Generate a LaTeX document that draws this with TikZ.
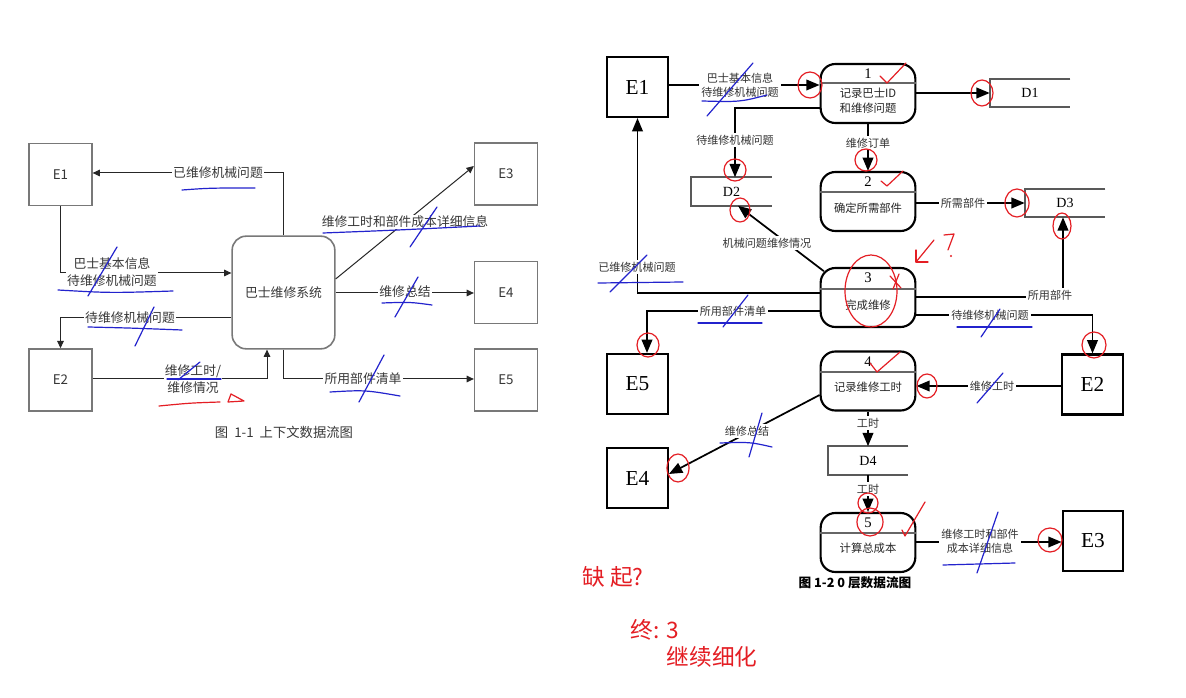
\documentclass[tikz,border=0pt]{standalone}
\usepackage{fontspec}
\setmainfont{Liberation Serif}
\newfontfamily\cjk{Noto Sans CJK SC}
\usetikzlibrary{arrows.meta}
\definecolor{pblue}{RGB}{35,35,205}
\definecolor{pred}{RGB}{228,30,36}
\definecolor{lgray}{RGB}{120,120,120}
\definecolor{ltext}{RGB}{55,55,55}
\begin{document}
\begin{tikzpicture}[x=0.75pt,y=-0.75pt,
  lbox/.style={draw=lgray,line width=1.2pt,inner sep=0,minimum width=47pt,minimum height=46.5pt,font=\cjk\fontsize{10}{12}\selectfont,text=ltext},
  lsys/.style={draw=lgray,line width=1.2pt,rounded corners=10.5pt,inner sep=0,minimum width=77pt,minimum height=84.5pt,font=\cjk\fontsize{9.6}{11}\selectfont,text=ltext},
  larr/.style={draw=black!85,line width=0.75pt,-{Triangle[length=5.5pt,width=5pt]}},
  llab/.style={fill=white,inner sep=1pt,font=\cjk\fontsize{9.6}{12.5}\selectfont,text=ltext,align=center},
  ebox/.style={draw,line width=1.6pt,inner sep=0,minimum width=45.5pt,minimum height=45pt,font=\fontsize{16}{18}\selectfont},
  proc/.style={draw,line width=1.6pt,rounded corners=11pt,inner sep=0,minimum width=71pt,minimum height=44.25pt},
  divl/.style={draw=black!60,line width=1pt},
  store/.style={draw=black!65,line width=1.3pt},
  snode/.style={inner sep=0,minimum width=60pt,minimum height=21pt,font=\fontsize{10.5}{12}\selectfont},
  rarr/.style={draw,line width=1.3pt,-{Triangle[length=10pt,width=8pt]}},
  rlab/.style={fill=white,inner sep=1.5pt,font=\cjk\fontsize{8.3}{10.5}\selectfont,text=black!80,align=center},
  pnum/.style={inner sep=0,font=\fontsize{11}{12}\selectfont},
  ptxt/.style={inner sep=0,font=\cjk\fontsize{8.5}{11}\selectfont,align=center,text=black!85},
  bpen/.style={draw=pblue,line width=0.9pt,line cap=round},
  rpen/.style={draw=pred,line width=0.9pt,line cap=round,line join=round},
  hand/.style={text=pred,inner sep=0,font=\cjk\fontsize{17}{19}\selectfont},
]
\path[use as bounding box,fill=white] (0,0) rectangle (1186,698);

% ================= left: context diagram =================
\node[lbox] (LE1) at (60.5,174.5) {E1};
\node[lbox] (LE2) at (60.5,380) {E2};
\node[lbox] (LE3) at (506,174) {E3};
\node[lbox] (LE4) at (506,292.5) {E4};
\node[lbox] (LE5) at (506,380) {E5};
\node[lsys] (LC) at (283.5,292.5) {巴士维修系统};

\draw[larr] (LC.north) -- (LC.north |- 0,173) -- (LE1.east |- 0,173);
\draw[larr] (LE1.south) |- (LC.west |- 0,273);
\draw[larr] (LC.west |- 0,318) -| (LE2.north);
\draw[larr] (LE2.east |- 0,379) -| (LC.south -| 267,0);
\draw[larr] (LC.east |- 0,279) -- (LE3.west |- 0,166);
\draw[larr] (LC.east |- 0,293) -- (LE4.west |- 0,293);
\draw[larr] (LC.south) |- (LE5.west |- 0,379);

\node[llab] (l1) at (218,173) {已维修机械问题};
\node[llab] (l2) at (112,272) {巴士基本信息\\待维修机械问题};
\node[llab] (l3) at (130,318) {待维修机械问题};
\node[llab] (l4) at (193,379) {维修工时/\\维修情况};
\node[llab] (l5) at (405,222) {维修工时和部件成本详细信息};
\node[llab] (l6) at (405,292) {维修总结};
\node[llab] (l7) at (363,379) {所用部件清单};
\node[font=\cjk\fontsize{10}{12}\selectfont,text=ltext] (cap1) at (284,432) {图\ \ 1-1\ \ 上下文数据流图};

% ================= right: level-0 diagram =================
\node[ebox] (E1) at (637.5,87) {E1};
\node[ebox] (E5) at (637.5,384) {E5};
\node[ebox] (E4) at (637.5,478) {E4};
\node[ebox] (E2) at (1092.5,384.5) {E2};
\node[ebox] (E3) at (1093,541) {E3};

\node[proc] (P1) at (868,93.5) {};
\node[proc] (P2) at (868,201.5) {};
\node[proc] (P3) at (868,297.5) {};
\node[proc] (P4) at (868,381) {};
\node[proc] (P5) at (868,542.5) {};
\draw[divl] (P1.west |- 0,83) -- (P1.east |- 0,83);
\draw[divl] (P2.west |- 0,192) -- (P2.east |- 0,192);
\draw[divl] (P3.west |- 0,289) -- (P3.east |- 0,289);
\draw[divl] (P4.west |- 0,372) -- (P4.east |- 0,372);
\draw[divl] (P5.west |- 0,533) -- (P5.east |- 0,533);
\node[pnum] (n1) at (868,74) {1};
\node[ptxt] (t1) at (868,100.5) {记录巴士ID\\和维修问题};
\node[pnum] (n2) at (868,182) {2};
\node[ptxt] (t2) at (868,208) {确定所需部件};
\node[pnum] (n3) at (868,278) {3};
\node[ptxt] (t3) at (868,305) {完成维修};
\node[pnum] (n4) at (868,362) {4};
\node[ptxt] (t4) at (868,387) {记录维修工时};
\node[pnum] (n5) at (868,523) {5};
\node[ptxt] (t5) at (868,548) {计算总成本};

\node[snode] (D1) at (1030,93) {D1};
\node[snode] (D2) at (731.5,191.5) {D2};
\node[snode] (D3) at (1065,203) {D3};
\node[snode] (D4) at (868,460.5) {D4};
\foreach \d in {D1,D2,D3,D4}
  \draw[store] (\d.north east) -- (\d.north west) -- (\d.south west) -- (\d.south east);

\draw[rarr] (E1.east |- 0,85) -- (P1.west |- 0,85);
\draw[rarr] (P1.west |- 0,108) -| (D2.north -| 735,0);
\draw[rarr] (P1.east |- 0,93) -- (D1.west |- 0,93);
\draw[rarr] (P1.south) -- (P2.north);
\draw[rarr] (P2.east |- 0,203) -- (D3.west |- 0,203);
\draw[rarr] ([shift={(3.2pt,-3.2pt)}]P3.north west) -- (D2.south -| 738,0);
\draw[rarr] (P3.west |- 0,293) -| (E1.south);
\draw[rarr] (P3.west |- 0,311) -| (E5.north -| 647,0);
\draw[rarr] (P3.east |- 0,297) -| (D3.south -| 1063,0);
\draw[rarr] (P3.east |- 0,315) -| (E2.north);
\draw[rarr] (E2.west |- 0,386) -- (P4.east |- 0,386);
\draw[rarr] (P4.west |- 0,395) -- (E4.east |- 0,474);
\draw[rarr] (P4.south) -- (D4.north);
\draw[rarr] (D4.south) -- (P5.north);
\draw[rarr] (P5.east |- 0,542) -- (E3.west |- 0,542);

\node[rlab] (r1) at (740,85) {巴士基本信息\\待维修机械问题};
\node[rlab] (r2) at (735,140) {待维修机械问题};
\node[rlab] (r3) at (868,143) {维修订单};
\node[rlab] (r4) at (963,203) {所需部件};
\node[rlab] (r5) at (767,243) {机械问题维修情况};
\node[rlab] (r6) at (637,267) {已维修机械问题};
\node[rlab] (r7) at (733,311) {所用部件清单};
\node[rlab] (r8) at (1050,295) {所用部件};
\node[rlab] (r9) at (990,315) {待维修机械问题};
\node[rlab] (r10) at (992,386) {维修工时};
\node[rlab] (r11) at (747,431) {维修总结};
\node[rlab] (r12) at (868,423) {工时};
\node[rlab] (r13) at (868,489) {工时};
\node[rlab] (r14) at (980,541) {维修工时和部件\\成本详细信息};
\node[font=\cjk\bfseries\fontsize{9.5}{11}\selectfont] (cap2) at (855,583) {图 1-2 0 层数据流图};

% ================= blue pen marks =================
\draw[bpen] (182,190) .. controls (210,188) .. (255,188);
\draw[bpen] (117,247) -- (88,296);
\draw[bpen] (58,290) .. controls (110,293) .. (173,291);
\draw[bpen] (88,327) .. controls (130,328) .. (182,330);
\draw[bpen] (154,307) -- (135,346);
\draw[bpen] (200,362) -- (178,380);
\draw[bpen] (167,379) -- (221,379);
\draw[bpen] (323,233) .. controls (400,230) .. (480,226);
\draw[bpen] (437,207) -- (410,247);
\draw[bpen] (382,303) .. controls (410,302) .. (432,305);
\draw[bpen] (418,277) -- (395,317);
\draw[bpen] (330,392) .. controls (365,390) .. (400,396);
\draw[bpen] (384,355) -- (359,402);

\draw[bpen] (702,101) .. controls (740,102) .. (767,95);
\draw[bpen] (753,63) -- (707,116);
\draw[bpen] (598,283) -- (683,282);
\draw[bpen] (647,255) -- (610,292);
\draw[bpen] (698,323) -- (762,323);
\draw[bpen] (748,295) -- (723,327);
\draw[bpen] (957,327) -- (1032,327);
\draw[bpen] (1000,309) -- (981,337);
\draw[bpen] (1003,373) -- (977,403);
\draw[bpen] (720,443) .. controls (750,442) .. (772,447);
\draw[bpen] (762,413) -- (749,457);
\draw[bpen] (943,565) -- (1015,563);
\draw[bpen] (998,512) -- (977,573);

% ================= red pen marks =================
\draw[rpen] (159,406) .. controls (190,403) .. (220,402);
\draw[rpen] (231,394) -- (228,402) -- (244,401) -- cycle;
\draw[rpen] (810,85) ellipse [x radius=12,y radius=13];
\draw[rpen] (880,76) -- (887,83) -- (906,63);
\draw[rpen] (982,93) ellipse [x radius=11,y radius=13];
\draw[rpen] (866,160) circle [radius=11];
\draw[rpen] (881,181) -- (887,186) -- (903,171);
\draw[rpen] (735,170) circle [radius=11];
\draw[rpen] (740,210) ellipse [x radius=10,y radius=12];
\draw[rpen] (1017,203) ellipse [x radius=12,y radius=14];
\draw[rpen] (1062,226) ellipse [x radius=9,y radius=13];
\draw[rpen] (871,291) ellipse [x radius=26,y radius=36];
\draw[rpen] (890,276) -- (901,288);
\draw[rpen] (899,274) -- (893,289);
\draw[rpen] (934,240) -- (916,262);
\draw[rpen] (916,250) -- (916,262) -- (928,262);
\draw[rpen] (944,235) -- (954,234) -- (948,250);
\fill[pred] (951,256) circle [radius=1.2];
\draw[rpen] (648,345) ellipse [x radius=11,y radius=12];
\draw[rpen] (1094,345) ellipse [x radius=12,y radius=13];
\draw[rpen] (927,386) ellipse [x radius=10,y radius=12];
\draw[rpen] (870,363) -- (877,372) -- (900,352);
\draw[rpen] (678,468) ellipse [x radius=11,y radius=14];
\draw[rpen] (868,503) circle [radius=10];
\draw[rpen] (870,522) ellipse [x radius=13,y radius=14];
\draw[rpen] (902,530) -- (905,536) -- (925,502);
\draw[rpen] (1050,540) circle [radius=12];
\node[hand] (h1) at (613,577) {缺\ 起?};
\node[hand] (h2) at (655,630) {终: 3};
\node[hand] (h3) at (712,657) {继续细化};
\end{tikzpicture}
\end{document}
